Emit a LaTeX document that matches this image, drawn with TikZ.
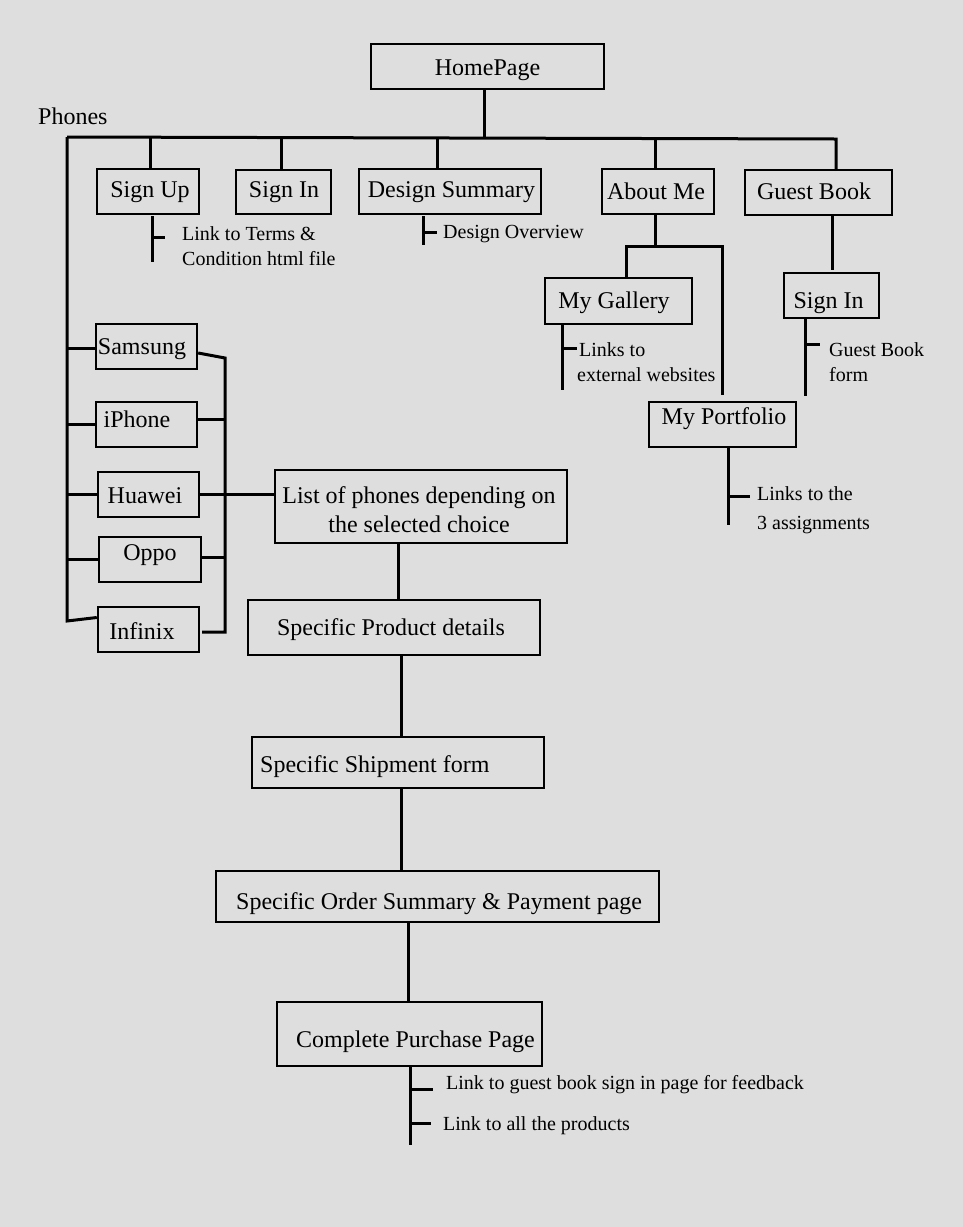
\documentclass[tikz,border=0pt]{standalone}
\usepackage{fontspec}
\setmainfont{Liberation Serif}
\definecolor{bggray}{RGB}{222,222,222}
\newcommand\mkbox[5]{\node[box, minimum width={(#4-#2)*1pt}, minimum height={(#5-#3)*1pt}] (#1) at ({(#2+#4)/2},{(#3+#5)/2}) {};}
\begin{document}
\begin{tikzpicture}[x=1pt,y=-1pt,
  box/.style={draw, line width=2.4pt, inner sep=0pt},
  big/.style={font=\fontsize{24}{29}\selectfont, inner sep=0pt},
  small/.style={font=\fontsize{20}{25}\selectfont, inner sep=0pt, anchor=west, align=left},
  ln/.style={line width=3pt}]
\fill[bggray] (0,0) rectangle (963,1227);
\useasboundingbox (0,0) rectangle (963,1227);

% boxes
\mkbox{home}{371}{44}{604}{89}
\mkbox{signup}{97}{169}{199}{214}
\mkbox{signin}{236}{170}{331}{214}
\mkbox{design}{359}{169}{541}{214}
\mkbox{about}{602}{169}{714}{214}
\mkbox{guest}{745}{170}{892}{215}
\mkbox{gallery}{545}{278}{692}{324}
\mkbox{portfolio}{649}{402}{796}{447}
\mkbox{gsignin}{784}{273}{879}{318}
\mkbox{samsung}{96}{324}{197}{369}
\mkbox{iphone}{96}{402}{197}{447}
\mkbox{huawei}{98}{472}{199}{517}
\mkbox{oppo}{99}{537}{201}{582}
\mkbox{infinix}{98}{607}{199}{652}
\mkbox{list}{275}{470}{567}{543}
\mkbox{product}{248}{600}{540}{655}
\mkbox{shipment}{252}{737}{544}{788}
\mkbox{order}{216}{871}{659}{922}
\mkbox{complete}{277}{1002}{542}{1066}

% box texts
\node[big] (tHome) at (487.5,70) {HomePage};
\node[big] (tSignup) at (150,192) {Sign Up};
\node[big] (tSignin) at (284,192) {Sign In};
\node[big] (tDesign) at (451.5,192) {Design Summary};
\node[big] (tAbout) at (656,191) {About Me};
\node[big] (tGuest) at (814,191) {Guest Book};
\node[big] (tGallery) at (614,303) {My Gallery};
\node[big] (tGsignin) at (828.5,303) {Sign In};
\node[big] (tPortfolio) at (724,419) {My Portfolio};
\node[big] (tSamsung) at (142,349) {Samsung};
\node[big] (tIphone) at (137,419) {iPhone};
\node[big] (tHuawei) at (145,496) {Huawei};
\node[big] (tOppo) at (150,555) {Oppo};
\node[big] (tInfinix) at (142,631) {Infinix};
\node[big, align=center] (tList) at (419,510) {List of phones depending on\\the selected choice};
\node[big] (tProduct) at (391,630) {Specific Product details};
\node[big, anchor=west] (tShipment) at (260,767) {Specific Shipment form};
\node[big, anchor=west] (tOrder) at (236,904) {Specific Order Summary \& Payment page};
\node[big, anchor=west] (tComplete) at (296,1042) {Complete Purchase Page};
\node[big, anchor=west] (tPhones) at (38,116) {Phones};

% annotation texts
\node[small] (aSignup) at (182,246.5) {Link to Terms \&\\Condition html file};
\node[small] (aDesign) at (443,234) {Design Overview};
\node[small] (aGallery) at (577,362.5) {\hspace*{2pt}Links to\\external websites};
\node[small] (aGsignin) at (829,362) {Guest Book\\form};
\node[small, font=\fontsize{20}{29}\selectfont] (aPortfolio) at (757,510.5) {Links to the\\3 assignments};
\node[small] (aFeedback) at (446,1085) {Link to guest book sign in page for feedback};
\node[small] (aProducts) at (443,1126) {Link to all the products};

% main bus
\coordinate (busL) at (67,137);
\coordinate (busR) at (836,139);
\coordinate (jH) at (484,138);
\coordinate (jSU) at (150,137);
\coordinate (jSI) at (281,137);
\coordinate (jDS) at (437,138);
\coordinate (jAM) at (655,139);
\draw[ln] (home.south -| jH) -- (jH);
\draw[ln] (busL) -- (busR) -- (busR |- guest.north);
\draw[ln] (jSU) -- (jSU |- signup.north);
\draw[ln] (jSI) -- (jSI |- signin.north);
\draw[ln] (jDS) -- (jDS |- design.north);
\draw[ln] (jAM) -- (jAM |- about.north);

% phones column
\coordinate (phL) at (67,621);
\draw[ln] (busL) -- (phL) -- ([yshift=12pt]infinix.west);
\draw[ln] ([yshift=-1.5pt]busL |- samsung.west) -- ([yshift=-1.5pt]samsung.west);
\draw[ln] (busL |- iphone.west) -- (iphone.west);
\draw[ln] (busL |- huawei.west) -- (huawei.west);
\draw[ln] (busL |- oppo.west) -- (oppo.west);
\coordinate (brT) at (225,358);
\coordinate (brB) at (225,632);
\draw[ln] ([yshift=-6.5pt]samsung.east) -- (brT) -- (brB) -- ([yshift=-2.5pt,xshift=2pt]infinix.east);
\draw[ln] ([yshift=5.5pt]iphone.east) -- ([yshift=5.5pt]iphone.east -| brT);
\draw[ln] ([yshift=2.5pt]oppo.east) -- ([yshift=2.5pt]oppo.east -| brT);
\draw[ln] (huawei.east) -- (list.west |- huawei.east);

% main chain
\coordinate (vLP) at (398,0);
\coordinate (vPS) at (401,0);
\coordinate (vOC) at (408,0);
\draw[ln] (list.south -| vLP) -- (product.north -| vLP);
\draw[ln] (product.south -| vPS) -- (shipment.north -| vPS);
\draw[ln] (shipment.south -| vPS) -- (order.north -| vPS);
\draw[ln] (order.south -| vOC) -- (complete.north -| vOC);

% about me subtree
\coordinate (amJ) at (655,246);
\coordinate (amL) at (626,246);
\coordinate (amR) at (722,246);
\coordinate (amRe) at (722,395);
\draw[ln] (about.south -| amJ) -- (amJ);
\draw[ln] (amL |- gallery.north) -- (amL) -- (amR) -- (amRe);

% guest book subtree
\coordinate (gbX) at (832,0);
\draw[ln] (guest.south -| gbX) -- ([yshift=2pt]gsignin.north -| gbX);

% annotation brackets
\coordinate (suA) at (152,216); \coordinate (suB) at (152,262); \coordinate (suT) at (165,237);
\draw[ln] (suA) -- (suB); \draw[ln] (suA |- suT) -- (suT);
\coordinate (dsA) at (423,216); \coordinate (dsB) at (423,245); \coordinate (dsT) at (437,232);
\draw[ln] (dsA) -- (dsB); \draw[ln] (dsA |- dsT) -- (dsT);
\coordinate (mgX) at (562,0); \coordinate (mgB) at (562,390); \coordinate (mgT) at (577,348);
\draw[ln] (gallery.south -| mgX) -- (mgB); \draw[ln] (mgB |- mgT) -- (mgT);
\coordinate (pfX) at (728,0); \coordinate (pfB) at (728,525); \coordinate (pfT) at (750,496);
\draw[ln] (portfolio.south -| pfX) -- (pfB); \draw[ln] (pfB |- pfT) -- (pfT);
\coordinate (gsX) at (805,0); \coordinate (gsB) at (805,396); \coordinate (gsT) at (820,344);
\draw[ln] (gsignin.south -| gsX) -- (gsB); \draw[ln] (gsB |- gsT) -- (gsT);
\coordinate (cpX) at (410,0); \coordinate (cpB) at (410,1145);
\coordinate (cpT1) at (433,1089); \coordinate (cpT2) at (431,1123);
\draw[ln] (complete.south -| cpX) -- (cpB);
\draw[ln] (cpB |- cpT1) -- (cpT1);
\draw[ln] (cpB |- cpT2) -- (cpT2);
\end{tikzpicture}
\end{document}
